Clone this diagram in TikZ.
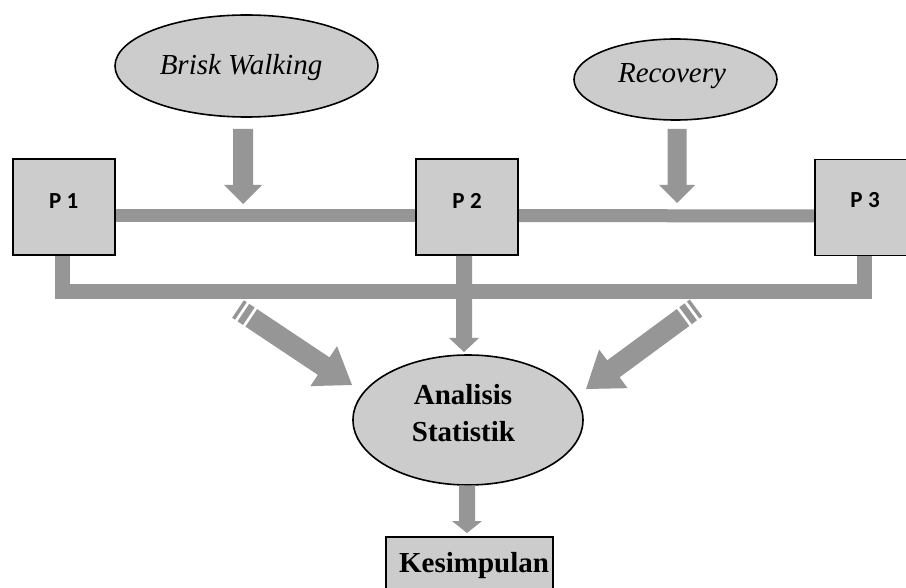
\documentclass[tikz,border=0pt]{standalone}
\usepackage{fontspec}
\setmainfont{Liberation Serif}
\newfontfamily\calib{Carlito}
\usetikzlibrary{calc,shapes.geometric}
\definecolor{arrowgray}{RGB}{150,150,150}
\definecolor{boxfill}{RGB}{204,204,204}
\newcommand{\blkarrow}[5]{%
  \path ($(#2)!#5!(#1)$) coordinate (hb);
  \fill[arrowgray] ($(#1)!#3!90:(#2)$) -- ($(hb)!#3!90:(#2)$) -- ($(hb)!#4!90:(#2)$) -- (#2)
    -- ($(hb)!#4!-90:(#2)$) -- ($(hb)!#3!-90:(#2)$) -- ($(#1)!#3!-90:(#2)$) -- cycle;}
\tikzset{
  pbox/.style={draw=black, line width=1.6pt, fill=boxfill, minimum width=102pt, minimum height=96pt, inner sep=0pt},
  oval/.style={draw=black, line width=1.6pt, fill=boxfill, ellipse, inner sep=0pt},
  ptext/.style={font=\calib\bfseries\fontsize{23}{27}\selectfont, anchor=base, inner sep=0pt},
  itext/.style={font=\itshape\fontsize{29}{34}\selectfont, anchor=base, inner sep=0pt},
  btext/.style={font=\bfseries\fontsize{29}{34}\selectfont, anchor=base, inner sep=0pt},
  bar/.style={draw=arrowgray, line width=13pt},
  lowbar/.style={draw=arrowgray, line width=15pt, line join=miter},
  stripe/.style={draw=arrowgray, line width=21pt}
}
\begin{document}
\begin{tikzpicture}[x=1pt,y=-1pt]
\useasboundingbox (0,0) rectangle (906,588);
\clip (0,0) rectangle (906,588);
\fill[white] (0,0) rectangle (906,588);

% boxes (positions)
\node[pbox] (p1) at (64,207) {};
\node[pbox] (p2) at (467,207) {};
\node[pbox] (p3) at (866,207.5) {};

% connectors behind boxes
\draw[bar] ([yshift=-8.5pt]p1.east) -- ([yshift=-8.5pt]p2.west);
\draw[bar] ([yshift=-8.5pt]p2.east) -- ([yshift=-8.5pt]p3.west);
\draw[lowbar] ([xshift=-1.5pt]p1.south) -- ++(0,35.5) -| ([xshift=-1.5pt]p3.south);

% redraw boxes on top
\node[pbox] at (p1) {};
\node[pbox] at (p2) {};
\node[pbox] at (p3) {};
\node[ptext] (t1) at (63.7,208.3) {{\spaceskip=5.5pt P 1}};
\node[ptext] (t2) at (467,208.3) {{\spaceskip=5.5pt P 2}};
\node[ptext] (t3) at (865,208) {{\spaceskip=5.5pt P 3}};

% ellipses
\node[oval, minimum width=263pt, minimum height=102pt] (bw) at (246.5,66) {};
\node[itext] (bwt) at (241,75) {Brisk Walking};
\node[oval, minimum width=203pt, minimum height=81pt] (rc) at (675.5,79.5) {};
\node[itext] (rct) at (672,83) {Recovery};
\node[oval, minimum width=230pt, minimum height=130pt] (an) at (468,420) {};
\node[btext] (ant1) at (463,404) {Analisis};
\node[btext] (ant2) at (463.5,442) {Statistik};

% conclusion box
\node[draw=black, line width=1.6pt, fill=boxfill, minimum width=167pt, minimum height=56pt, inner sep=0pt] (ks) at (469.5,565) {};
\node[btext] (kst) at (474,572) {Kesimpulan};

% vertical block arrows
\coordinate (bwa) at (243,129);
\coordinate (bwb) at (243,204);
\blkarrow{bwa}{bwb}{10pt}{19pt}{19pt}
\coordinate (rca) at (677,129);
\coordinate (rcb) at (677,203);
\blkarrow{rca}{rcb}{9.5pt}{18pt}{18pt}
\coordinate (p2a) at ($(p2.south)+(-3,0)$);
\coordinate (p2b) at (464,352);
\blkarrow{p2a}{p2b}{8pt}{15pt}{14pt}
\coordinate (ana) at ($(an.south)+(-1,-0.5)$);
\coordinate (anb) at (467,533);
\blkarrow{ana}{anb}{8pt}{15pt}{12pt}

% diagonal striped arrows
\coordinate (la) at (238,309);
\coordinate (lt) at (352,385);
\draw[stripe] ($(la)!0pt!(lt)$) -- ($(la)!3.5pt!(lt)$);
\draw[stripe] ($(la)!6.5pt!(lt)$) -- ($(la)!13pt!(lt)$);
\path ($(la)!16pt!(lt)$) coordinate (la2);
\blkarrow{la2}{lt}{10.5pt}{24pt}{34pt}

\coordinate (ra) at (696,308);
\coordinate (rt) at (586,389);
\draw[stripe] ($(ra)!0pt!(rt)$) -- ($(ra)!3.5pt!(rt)$);
\draw[stripe] ($(ra)!6.5pt!(rt)$) -- ($(ra)!13pt!(rt)$);
\path ($(ra)!16pt!(rt)$) coordinate (ra2);
\blkarrow{ra2}{rt}{10.5pt}{24pt}{34pt}
\end{tikzpicture}
\end{document}
